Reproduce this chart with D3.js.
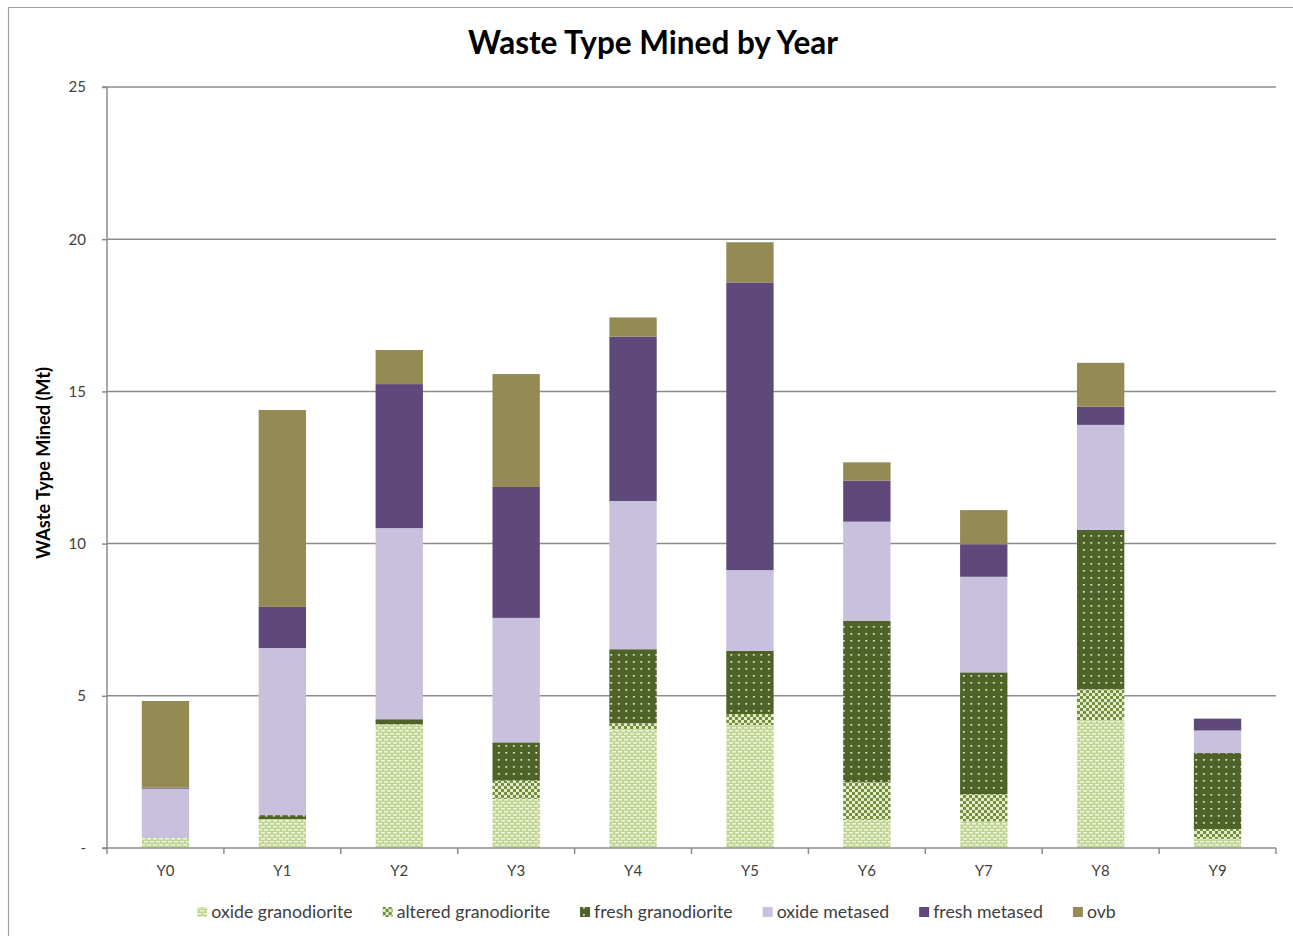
<!DOCTYPE html>
<html>
<head>
<meta charset="utf-8">
<script src="https://cdn.jsdelivr.net/npm/d3@7"></script>
<style>
  html, body { margin: 0; padding: 0; background: #fff; }
  svg { display: block; }
  text { font-family: Lato, "Open Sans", sans-serif; }
</style>
</head>
<body>
<svg id="chart" width="1293" height="936"></svg>
<script>
// ---- data ----
const years = ["Y0", "Y1", "Y2", "Y3", "Y4", "Y5", "Y6", "Y7", "Y8", "Y9"];
const oxideGranodiorite   = [0.33, 0.95, 4.06, 1.61, 3.90, 4.04, 0.92, 0.87, 4.20, 0.30];
const alteredGranodiorite = [0.00, 0.00, 0.00, 0.60, 0.20, 0.36, 1.24, 0.90, 1.02, 0.32];
const freshGranodiorite   = [0.00, 0.13, 0.17, 1.26, 2.43, 2.08, 5.31, 4.00, 5.23, 2.50];
const oxideMetased        = [1.62, 5.49, 6.28, 4.09, 4.87, 2.65, 3.25, 3.14, 3.45, 0.74];
const freshMetased        = [0.03, 1.35, 4.73, 4.30, 5.40, 9.45, 1.35, 1.07, 0.60, 0.39];
const ovb                 = [2.85, 6.47, 1.12, 3.71, 0.63, 1.32, 0.60, 1.12, 1.44, 0.00];
const seriesNames = ["oxide granodiorite", "altered granodiorite", "fresh granodiorite", "oxide metased", "fresh metased", "ovb"];
const yTicks = [0, 5, 10, 15, 20, 25];
const yTickLabels = ["-", "5", "10", "15", "20", "25"];
const title = "Waste Type Mined by Year";
const yTitle = "WAste Type Mined (Mt)";

// ---- build table ----
const seriesValues = [oxideGranodiorite, alteredGranodiorite, freshGranodiorite, oxideMetased, freshMetased, ovb];
const table = years.map((y, i) => {
  const row = { year: y };
  seriesNames.forEach((k, j) => row[k] = seriesValues[j][i]);
  return row;
});
const stacked = d3.stack().keys(seriesNames)(table);

const svg = d3.select("#chart");
const W = 1293, H = 936;
const plot = { left: 107, right: 1276, top: 87, bottom: 848 };

// ---- patterns ----
const defs = svg.append("defs");
function pat(id, w, h) {
  return defs.append("pattern").attr("id", id).attr("patternUnits", "userSpaceOnUse")
    .attr("width", w).attr("height", h);
}
let p = pat("pOxG", 6, 6);
p.append("rect").attr("width", 6).attr("height", 6).attr("fill", "#c0d595");
p.append("rect").attr("x", 0).attr("y", 1).attr("width", 4).attr("height", 1.6).attr("fill", "#eef5d6");
p.append("rect").attr("x", 3).attr("y", 4).attr("width", 3).attr("height", 1.6).attr("fill", "#eef5d6");
p.append("rect").attr("x", 0).attr("y", 4).attr("width", 1).attr("height", 1.6).attr("fill", "#eef5d6");
p = pat("pAltG", 6, 6);
p.append("rect").attr("width", 6).attr("height", 6).attr("fill", "#e3edcc");
p.append("rect").attr("x", 0).attr("y", 0).attr("width", 3).attr("height", 3).attr("fill", "#748f3d");
p.append("rect").attr("x", 3).attr("y", 3).attr("width", 3).attr("height", 3).attr("fill", "#748f3d");
p = pat("pFrG", 7.5, 7);
p.append("rect").attr("width", 7.5).attr("height", 7).attr("fill", "#4f6228");
p.append("rect").attr("x", 3).attr("y", 3).attr("width", 1.7).attr("height", 1.7).attr("fill", "#e6efcf");

const fills = ["url(#pOxG)", "url(#pAltG)", "url(#pFrG)", "#c8c0dc", "#5f497a", "#948a54"];
const color = d3.scaleOrdinal().domain(seriesNames).range(fills);

// ---- scales ----
const x = d3.scaleBand().domain(years).range([plot.left, plot.right]).paddingInner(0.595).paddingOuter(0.2975);
const y = d3.scaleLinear().domain([0, 25]).range([plot.bottom, plot.top]);

// ---- frame ----
svg.append("line").attr("x1", 8).attr("x2", W).attr("y1", 7.5).attr("y2", 7.5).attr("stroke", "#a0a0a0").attr("stroke-width", 1.2);
svg.append("line").attr("x1", 8.5).attr("x2", 8.5).attr("y1", 7).attr("y2", H).attr("stroke", "#a0a0a0").attr("stroke-width", 1.2);

// ---- gridlines ----
svg.append("g").selectAll("line").data(yTicks.filter(t => t > 0)).join("line")
  .attr("x1", plot.left).attr("x2", plot.right)
  .attr("y1", d => y(d)).attr("y2", d => y(d))
  .attr("stroke", "#8c8c8c").attr("stroke-width", 1.5);

// ---- bars ----
svg.append("g").selectAll("g").data(stacked).join("g")
  .attr("fill", d => color(d.key))
  .selectAll("rect").data(d => d).join("rect")
  .attr("x", d => x(d.data.year))
  .attr("width", x.bandwidth())
  .attr("y", d => y(d[1]))
  .attr("height", d => Math.max(0, y(d[0]) - y(d[1])));

// ---- y axis ----
const yAxis = d3.axisLeft(y).tickValues(yTicks)
  .tickFormat((d, i) => yTickLabels[i]).tickSize(5).tickPadding(16);
const gy = svg.append("g").attr("transform", `translate(${plot.left},0)`).call(yAxis);
gy.select(".domain").attr("stroke", "#8c8c8c").attr("stroke-width", 1.5).attr("d", `M-5,${plot.top}H0V${plot.bottom}H-5`);
gy.selectAll(".tick line").attr("stroke", "#8c8c8c").attr("stroke-width", 1.5);
gy.selectAll(".tick text").attr("font-size", 15).attr("fill", "#404040")
  .attr("font-family", "Lato, sans-serif");

// ---- x axis ----
const xAxis = d3.axisBottom(x).tickSize(0).tickPadding(17);
const gx = svg.append("g").attr("transform", `translate(0,${plot.bottom})`).call(xAxis);
gx.select(".domain").attr("stroke", "#8c8c8c").attr("stroke-width", 1.5).attr("d", `M${plot.left},0H${plot.right}`);
gx.selectAll(".tick text").attr("font-size", 15).attr("fill", "#404040").attr("font-family", "Lato, sans-serif");
const bounds = d3.range(years.length + 1).map(i => plot.left + i * x.step());
gx.append("g").selectAll("line").data(bounds).join("line")
  .attr("x1", d => d).attr("x2", d => d).attr("y1", 0).attr("y2", 6)
  .attr("stroke", "#8c8c8c").attr("stroke-width", 1.5);

// ---- title ----
const t = svg.append("text").attr("x", 653).attr("y", 54).attr("text-anchor", "middle")
  .attr("font-weight", "bold").attr("font-size", 28).attr("fill", "#000").text(title);
let tl = t.node().getComputedTextLength();
t.attr("font-size", 28 * 370 / tl);

// ---- y title ----
const yt = svg.append("text").attr("transform", "translate(50,463) rotate(-90)")
  .attr("text-anchor", "middle").attr("font-weight", "bold").attr("font-size", 15)
  .attr("fill", "#000").text(yTitle);
tl = yt.node().getComputedTextLength();
yt.attr("font-size", 15 * 192 / tl);

// ---- legend ----
const lg = svg.append("g");
const swW = 14, gap = 30, targetW = 919;
const groups = seriesNames.map((name, i) => {
  const g = lg.append("g");
  g.append("rect").attr("x", 0).attr("y", -11).attr("width", 10).attr("height", 10).attr("fill", fills[i]);
  g.append("text").attr("x", swW).attr("y", 0).attr("font-size", 15).attr("fill", "#404040").text(name);
  return g;
});
let textSum = d3.sum(groups, g => g.select("text").node().getComputedTextLength());
const fs = 15 * (targetW - swW * groups.length - gap * (groups.length - 1)) / textSum;
let cx = 0;
groups.forEach(g => {
  const tx = g.select("text").attr("font-size", fs);
  g.attr("transform", `translate(${cx},0)`);
  cx += swW + tx.node().getComputedTextLength() + gap;
});
const total = cx - gap;
lg.attr("transform", `translate(${656.5 - total / 2},918)`);
</script>
</body>
</html>
